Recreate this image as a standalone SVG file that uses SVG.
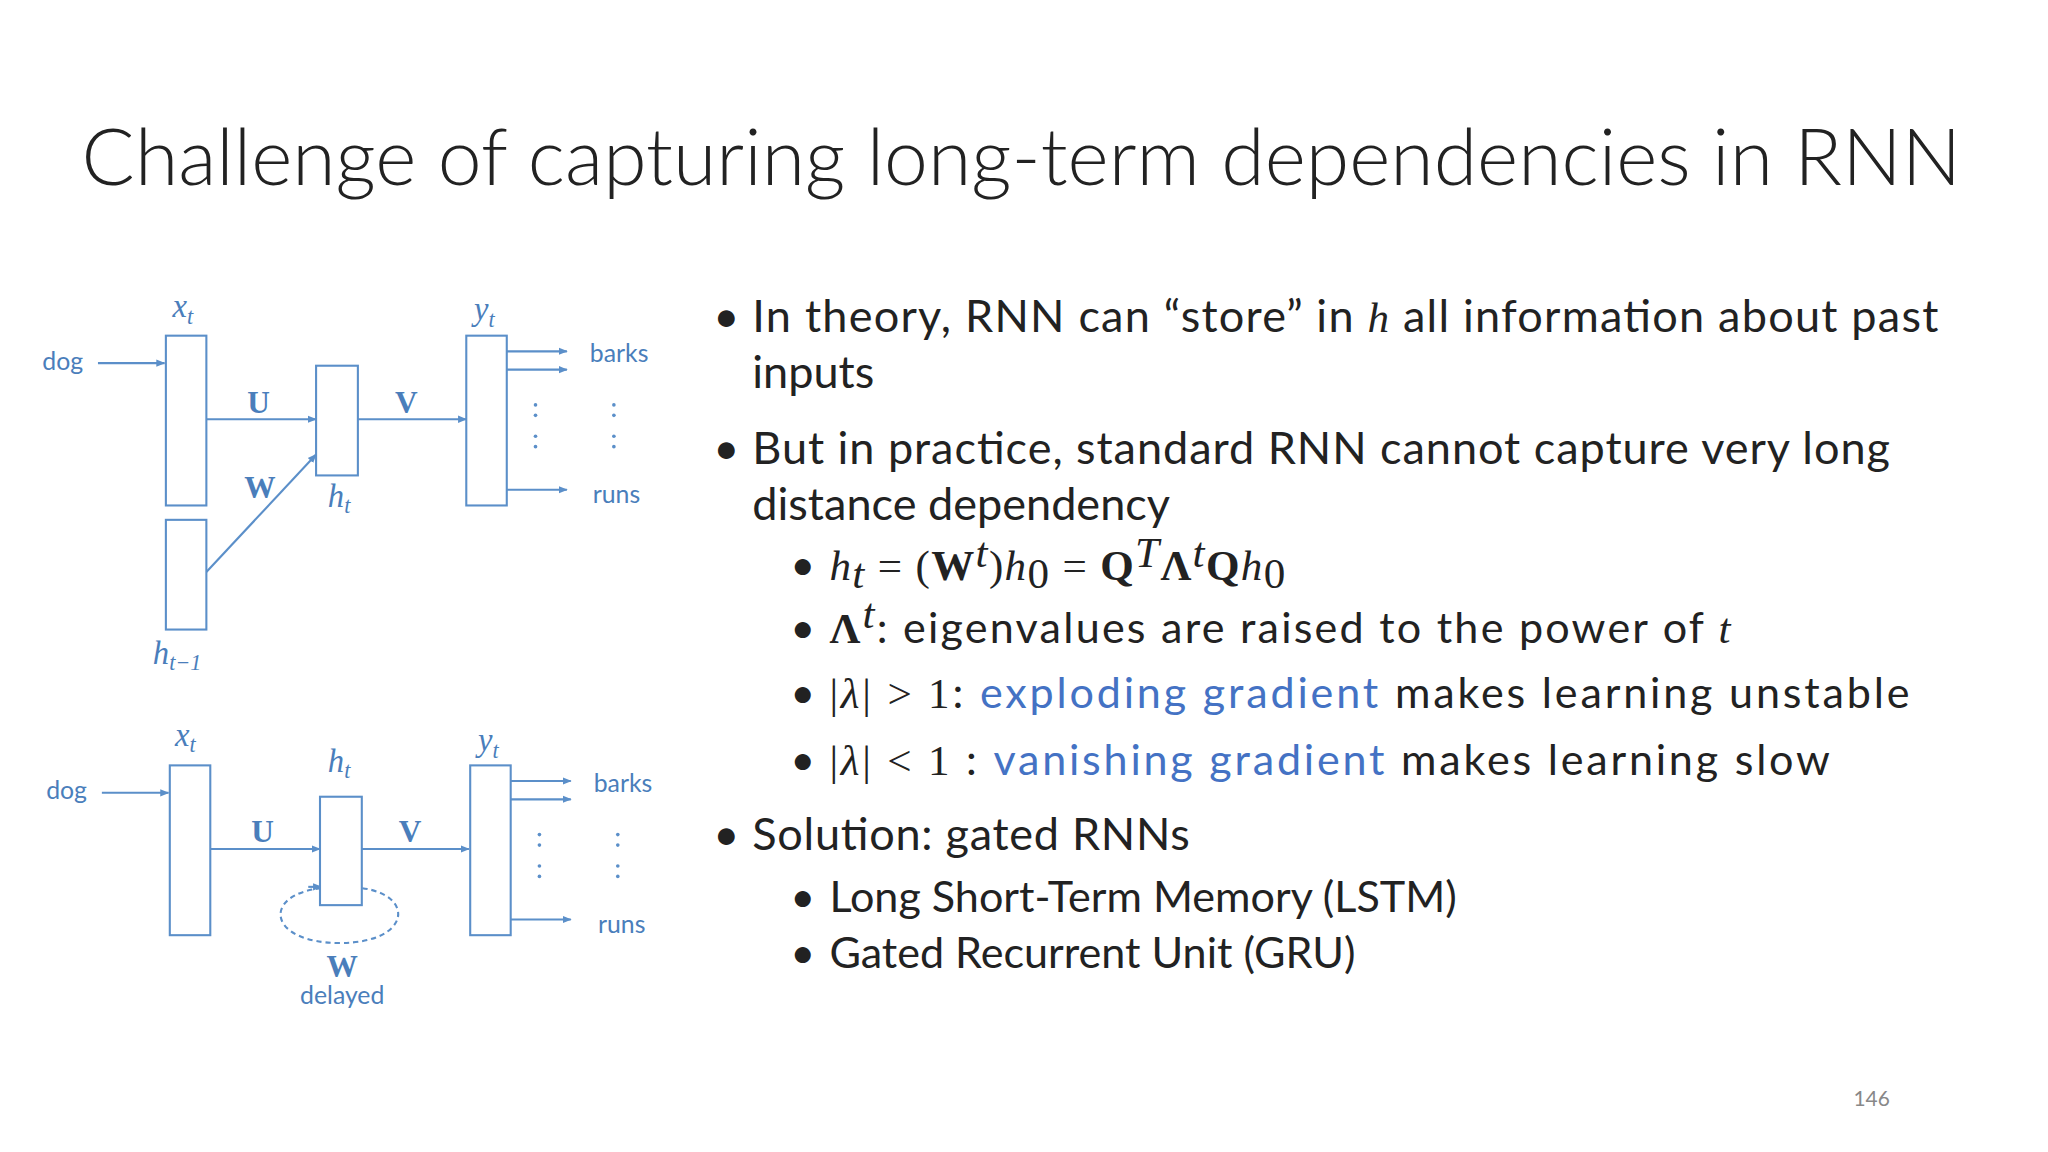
<svg xmlns="http://www.w3.org/2000/svg" width="2048" height="1152" viewBox="0 0 2048 1152">
<style>
.b{fill:#fff;stroke:#5b8fc9;stroke-width:1.6}
.l{stroke:#5b8fc9;stroke-width:1.6;fill:none}
.bl{fill:#4a7ebb;font-family:Lato,"Open Sans",sans-serif;font-size:19px}
.m{font-family:"Liberation Serif",serif;font-style:italic;fill:#4a7ebb;font-size:25px}
.bm{font-family:"Liberation Serif",serif;font-weight:bold;fill:#4a7ebb;font-size:24px}
.t{font-family:Lato,"Open Sans",sans-serif;fill:#222;font-size:34.5px}
.s{font-family:Lato,"Open Sans",sans-serif;fill:#222;font-size:33px}
.mi{font-family:"Liberation Serif",serif;font-style:italic;font-size:33px}
.mb{font-family:"Liberation Serif",serif;font-weight:bold;font-style:normal;font-size:33px}
.mr{font-family:"Liberation Serif",serif;font-style:normal;font-size:33px}
.hl{fill:#4472c4}
.d{fill:#5b8fc9}
</style>
<defs><marker id="a" viewBox="0 0 10 10" refX="9" refY="5" markerWidth="7" markerHeight="7" orient="auto" markerUnits="userSpaceOnUse"><path d="M0,1 L10,5 L0,9 z" fill="#5b8fc9"/></marker></defs>
<rect width="2048" height="1152" fill="#fff"/>
<g transform="scale(1.30612)">
<text x="782" y="142" text-anchor="middle" font-family="Lato,'Open Sans',sans-serif" font-weight="300" font-size="60" fill="#222" textLength="1439" lengthAdjust="spacingAndGlyphs">Challenge of capturing long-term dependencies in RNN</text>

<g id="connectors">
<line class="l" x1="75" y1="278" x2="126" y2="278" marker-end="url(#a)"/>
<line class="l" x1="158" y1="321" x2="242" y2="321" marker-end="url(#a)"/>
<line class="l" x1="158" y1="438" x2="242" y2="348" marker-end="url(#a)"/>
<line class="l" x1="274" y1="321" x2="357" y2="321" marker-end="url(#a)"/>
<line class="l" x1="388" y1="269" x2="434" y2="269" marker-end="url(#a)"/>
<line class="l" x1="388" y1="283" x2="434" y2="283" marker-end="url(#a)"/>
<line class="l" x1="388" y1="375" x2="434" y2="375" marker-end="url(#a)"/>
<line class="l" x1="78" y1="607" x2="129" y2="607" marker-end="url(#a)"/>
<line class="l" x1="161" y1="650" x2="245" y2="650" marker-end="url(#a)"/>
<line class="l" x1="277" y1="650" x2="359" y2="650" marker-end="url(#a)"/>
<line class="l" x1="391" y1="598" x2="437" y2="598" marker-end="url(#a)"/>
<line class="l" x1="391" y1="612" x2="437" y2="612" marker-end="url(#a)"/>
<line class="l" x1="391" y1="704" x2="437" y2="704" marker-end="url(#a)"/>
<path class="l" d="M246,680 C200,685 205,722 260,722 C315,722 318,685 277,680" stroke-dasharray="4 3"/>
<line class="l" x1="236" y1="679" x2="246" y2="679" marker-end="url(#a)"/>
</g>

<g id="top">
<text class="bl" x="48" y="283" text-anchor="middle">dog</text>
<rect class="b" x="127" y="257" width="31" height="130"/>
<rect class="b" x="127" y="398" width="31" height="84"/>
<rect class="b" x="242" y="280" width="32" height="84"/>
<rect class="b" x="357" y="257" width="31" height="130"/>
<text class="m" x="132" y="243">x<tspan font-size="17" dy="5">t</tspan></text>
<text class="m" x="117" y="508">h<tspan font-size="17" dy="5">t−1</tspan></text>
<text class="m" x="251" y="388">h<tspan font-size="17" dy="5">t</tspan></text>
<text class="m" x="363" y="245">y<tspan font-size="17" dy="5">t</tspan></text>
<text class="bm" x="198" y="316" text-anchor="middle">U</text>
<text class="bm" x="199" y="381" text-anchor="middle">W</text>
<text class="bm" x="311" y="316" text-anchor="middle">V</text>
<text class="bl" x="474" y="277" text-anchor="middle">barks</text>
<text class="bl" x="472" y="385" text-anchor="middle">runs</text>
<g class="d"><circle cx="410" cy="310" r="1.4"/><circle cx="410" cy="318" r="1.4"/><circle cx="410" cy="334" r="1.4"/><circle cx="410" cy="342" r="1.4"/><circle cx="470" cy="310" r="1.4"/><circle cx="470" cy="318" r="1.4"/><circle cx="470" cy="334" r="1.4"/><circle cx="470" cy="342" r="1.4"/></g>
</g>

<g id="bottom">
<text class="bl" x="51" y="612" text-anchor="middle">dog</text>
<rect class="b" x="130" y="586" width="31" height="130"/>
<rect class="b" x="245" y="610" width="32" height="83"/>
<rect class="b" x="360" y="586" width="31" height="130"/>
<text class="m" x="134" y="571">x<tspan font-size="17" dy="5">t</tspan></text>
<text class="m" x="251" y="591">h<tspan font-size="17" dy="5">t</tspan></text>
<text class="m" x="366" y="575">y<tspan font-size="17" dy="5">t</tspan></text>
<text class="bm" x="201" y="645" text-anchor="middle">U</text>
<text class="bm" x="314" y="645" text-anchor="middle">V</text>
<text class="bm" x="262" y="748" text-anchor="middle">W</text>
<text class="bl" x="262" y="769" text-anchor="middle">delayed</text>
<text class="bl" x="477" y="606" text-anchor="middle">barks</text>
<text class="bl" x="476" y="714" text-anchor="middle">runs</text>
<g class="d"><circle cx="413" cy="639" r="1.4"/><circle cx="413" cy="647" r="1.4"/><circle cx="413" cy="663" r="1.4"/><circle cx="413" cy="671" r="1.4"/><circle cx="473" cy="639" r="1.4"/><circle cx="473" cy="647" r="1.4"/><circle cx="473" cy="663" r="1.4"/><circle cx="473" cy="671" r="1.4"/></g>
</g>

<g id="text">
<text class="t" x="546" y="254">•</text>
<text class="t" x="576" y="254" textLength="908" lengthAdjust="spacing">In theory, RNN can “store” in <tspan class="mi" font-size="35">h</tspan> all information about past</text>
<text class="t" x="576" y="297">inputs</text>
<text class="t" x="546" y="355">•</text>
<text class="t" x="576" y="355" textLength="871" lengthAdjust="spacing">But in practice, standard RNN cannot capture very long</text>
<text class="t" x="576" y="398">distance dependency</text>
<text class="s" x="605" y="444" font-size="31">•</text>
<text class="s" x="635" y="444" textLength="349" lengthAdjust="spacing"><tspan class="mi">h</tspan><tspan class="mi" font-size="22" dy="6">t</tspan><tspan class="mr" dy="-6"> = (</tspan><tspan class="mb">W</tspan><tspan class="mi" font-size="22" dy="-10">t</tspan><tspan class="mr" dy="10">)</tspan><tspan class="mi">h</tspan><tspan class="mr" font-size="22" dy="6">0</tspan><tspan class="mr" dy="-6"> = </tspan><tspan class="mb">Q</tspan><tspan class="mi" font-size="22" dy="-10">T</tspan><tspan class="mb" dy="10">Λ</tspan><tspan class="mi" font-size="22" dy="-10">t</tspan><tspan class="mb" dy="10">Q</tspan><tspan class="mi">h</tspan><tspan class="mr" font-size="22" dy="6">0</tspan></text>
<text class="s" x="605" y="492" font-size="31">•</text>
<text class="s" x="635" y="492" textLength="690" lengthAdjust="spacing"><tspan class="mb">Λ</tspan><tspan class="mi" font-size="23" dy="-11">t</tspan><tspan dy="11">: eigenvalues are raised to the power of </tspan><tspan class="mi">t</tspan></text>
<text class="s" x="605" y="542" font-size="31">•</text>
<text class="s" x="635" y="542" textLength="827" lengthAdjust="spacing"><tspan class="mr">|</tspan><tspan class="mi">λ</tspan><tspan class="mr">| &gt; 1</tspan>: <tspan class="hl">exploding gradient</tspan> makes learning unstable</text>
<text class="s" x="605" y="593" font-size="31">•</text>
<text class="s" x="635" y="593" textLength="766" lengthAdjust="spacing"><tspan class="mr">|</tspan><tspan class="mi">λ</tspan><tspan class="mr">| &lt; 1</tspan> : <tspan class="hl">vanishing gradient</tspan> makes learning slow</text>
<text class="t" x="546" y="651">•</text>
<text class="t" x="576" y="651" textLength="335" lengthAdjust="spacing">Solution: gated RNNs</text>
<text class="s" x="605" y="698" font-size="27.5">•</text>
<text class="s" x="635" y="698" font-size="27.5">Long Short-Term Memory (LSTM)</text>
<text class="s" x="605" y="741" font-size="27.5">•</text>
<text class="s" x="635" y="741" font-size="27.5">Gated Recurrent Unit (GRU)</text>
<text x="1433" y="847" text-anchor="middle" font-family="Lato,sans-serif" font-size="16" fill="#888">146</text>
</g>
</g>
</svg>
